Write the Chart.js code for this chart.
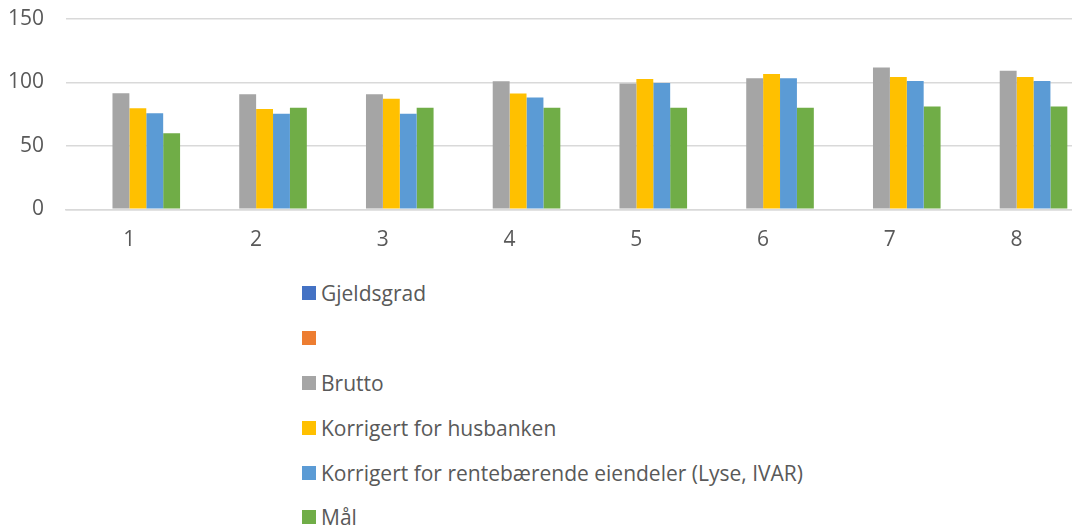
<!DOCTYPE html>
<html>
<head>
<meta charset="utf-8">
<script src="https://cdn.jsdelivr.net/npm/chart.js@4/dist/chart.umd.min.js"></script>
<style>
	body { margin: 0; background: #fff; }
	#wrap { position: relative; width: 1072px; height: 530px; overflow: hidden; }
	#legend { position: absolute; left: 302px; top: 271px; font: 21px "Open Sans", sans-serif; color: #595959; }
	#legend div { height: 44.8px; display: flex; align-items: center; white-space: nowrap; }
	#legend span { display: inline-block; width: 14px; height: 14px; margin-right: 5px; }
</style>
</head>
<body>
<div id="wrap">
	<canvas id="barChart" width="1088" height="260"></canvas>
	<div id="legend"></div>
</div>
<script>
const categories = ['1', '2', '3', '4', '5', '6', '7', '8'];

const gjeldsgrad = [null, null, null, null, null, null, null, null];
const blank = [null, null, null, null, null, null, null, null];
const brutto = [91.4, 90.6, 90.6, 100.9, 99.1, 103.3, 111.7, 109.3];
const husbanken = [79.6, 79.1, 87.2, 91.2, 102.7, 106.7, 104.3, 104.3];
const rentebaerende = [75.7, 75.4, 75.4, 88.2, 99.6, 103.3, 101.2, 101.2];
const maal = [60, 80, 80, 80, 80, 80, 81, 81];

const yTicks = [0, 50, 100, 150];

Chart.defaults.font.family = '"Open Sans", sans-serif';
Chart.defaults.font.size = 21;
Chart.defaults.color = '#595959';

// legend drawn as html so every entry gets its own row
const htmlLegend = {
	id: 'htmlLegend',
	afterUpdate(chart) {
		const box = document.getElementById('legend');
		box.innerHTML = '';
		chart.options.plugins.legend.labels.generateLabels(chart).forEach((item) => {
			const row = document.createElement('div');
			const swatch = document.createElement('span');
			swatch.style.background = item.fillStyle;
			row.appendChild(swatch);
			row.appendChild(document.createTextNode(item.text));
			box.appendChild(row);
		});
	}
};

const bar = (label, data, color) => ({
	label,
	data,
	backgroundColor: color,
	borderWidth: 0,
	categoryPercentage: 0.8,
	barPercentage: 1.0
});

new Chart(document.getElementById('barChart'), {
	type: 'bar',
	data: {
		labels: categories,
		datasets: [
			bar('Gjeldsgrad', gjeldsgrad, '#4472C4'),
			bar('', blank, '#ED7D31'),
			bar('Brutto', brutto, '#A5A5A5'),
			bar('Korrigert for husbanken', husbanken, '#FFC000'),
			bar('Korrigert for rentebærende eiendeler (Lyse, IVAR)', rentebaerende, '#5B9BD5'),
			bar('Mål', maal, '#70AD47')
		]
	},
	options: {
		responsive: false,
		animation: false,
		layout: {
			padding: { top: 19, left: 8, right: 8, bottom: 7.5 }
		},
		scales: {
			x: {
				afterFit: (scale) => { scale.height = 43.2; },
				grid: { display: false, drawTicks: false },
				border: { color: '#d9d9d9', width: 1.5 },
				ticks: { padding: 18 }
			},
			y: {
				min: yTicks[0],
				max: yTicks[yTicks.length - 1],
				afterFit: (scale) => {
					scale.width = 58;
					scale.paddingTop = 0;
					scale.paddingBottom = 0;
				},
				afterBuildTicks: (scale) => { scale.ticks = yTicks.map((v) => ({ value: v })); },
				grid: { color: '#d9d9d9', lineWidth: 1.5, drawTicks: false },
				border: { display: false },
				ticks: { padding: 22 }
			}
		},
		plugins: {
			legend: { display: false },
			tooltip: { enabled: false }
		}
	},
	plugins: [htmlLegend]
});
</script>
</body>
</html>
